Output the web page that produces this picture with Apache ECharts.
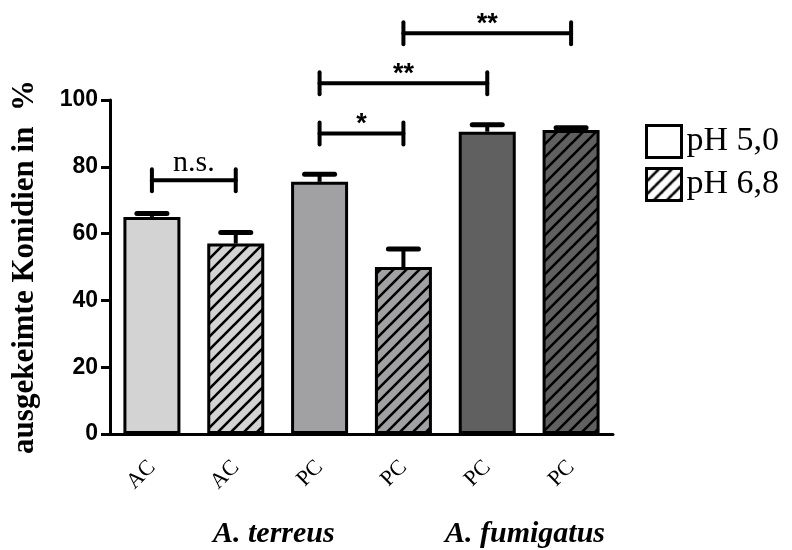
<!DOCTYPE html>
<html>
<head>
<meta charset="utf-8">
<script src="https://cdn.jsdelivr.net/npm/echarts@6/dist/echarts.min.js"></script>
<style>
  html, body { margin: 0; padding: 0; background: #fff; }
  #main { width: 792px; height: 550px; }
</style>
</head>
<body>
<div id="main"></div>
<script>
// germination data
const categories = ['AC', 'AC', 'PC', 'PC', 'PC', 'PC'];
const phGroup = ['pH 5,0', 'pH 6,8', 'pH 5,0', 'pH 6,8', 'pH 5,0', 'pH 6,8'];
const means = [65, 57, 75.5, 50, 90.5, 91];
const sem = [1, 3.3, 2.3, 5.4, 2.1, 0.7];
const yTicks = [0, 20, 40, 60, 80, 100];
// [from index, to index, level in %, label]
const brackets = [
  [0, 1, 76, 'n.s.'],
  [2, 3, 90, '*'],
  [2, 4, 105, '**'],
  [3, 5, 120, '**']
];
const species = ['A. terreus', 'A. fumigatus'];

const shades = ['#d3d3d3', '#d3d3d3', '#a1a1a3', '#a1a1a3', '#606060', '#606060'];

function hatch(base) {
  let s = 13;
  let c = document.createElement('canvas');
  c.width = s;
  c.height = s;
  let ctx = c.getContext('2d');
  ctx.fillStyle = base;
  ctx.fillRect(0, 0, s, s);
  ctx.strokeStyle = '#000';
  ctx.lineWidth = 2.6;
  ctx.beginPath();
  ctx.moveTo(-2, 2); ctx.lineTo(2, -2);
  ctx.moveTo(0, s); ctx.lineTo(s, 0);
  ctx.moveTo(s - 2, s + 2); ctx.lineTo(s + 2, s - 2);
  ctx.stroke();
  return { image: c, repeat: 'repeat' };
}

function barItems(group) {
  return means.map((v, i) => {
    if (phGroup[i] !== group) return '-';
    return {
      value: v,
      itemStyle: { color: group === 'pH 6,8' ? hatch(shades[i]) : shades[i] }
    };
  });
}

const chart = echarts.init(document.getElementById('main'));

const option = {
  animation: false,
  backgroundColor: '#fff',
  grid: { left: 110, right: 179, top: 100, bottom: 116 },
  legend: {
    left: 640,
    top: 119,
    orient: 'vertical',
    itemWidth: 35,
    itemHeight: 32,
    itemGap: 8,
    selectedMode: false,
    textStyle: { fontFamily: 'Liberation Serif', fontSize: 34, color: '#000' },
    data: [
      { name: 'pH 5,0', icon: 'rect', itemStyle: { color: '#fff', borderColor: '#000', borderWidth: 3 } },
      { name: 'pH 6,8', icon: 'rect', itemStyle: { color: hatch('#fff'), borderColor: '#000', borderWidth: 3 } }
    ]
  },
  xAxis: {
    type: 'category',
    data: categories,
    axisLine: { lineStyle: { color: '#000', width: 3 } },
    axisTick: { alignWithLabel: true, length: 11, lineStyle: { color: '#000', width: 3 } },
    axisLabel: {
      rotate: 45,
      margin: 30,
      color: '#000',
      fontFamily: 'Liberation Serif',
      fontSize: 22
    }
  },
  yAxis: {
    type: 'value',
    min: 0,
    max: 100,
    interval: 20,
    name: 'ausgekeimte Konidien in  %',
    nameLocation: 'middle',
    nameGap: 70,
    nameTextStyle: { fontFamily: 'Liberation Serif', fontWeight: 'bold', fontSize: 31, color: '#000' },
    splitLine: { show: false },
    axisLine: { show: true, lineStyle: { color: '#000', width: 3 } },
    axisTick: { show: true, length: 9, lineStyle: { color: '#000', width: 3 } },
    axisLabel: {
      margin: 12,
      color: '#000',
      fontFamily: 'Liberation Sans',
      fontWeight: 'bold',
      fontSize: 23,
      formatter: (v) => yTicks.indexOf(v) >= 0 ? String(v) : ''
    }
  },
  series: [
    {
      name: 'pH 5,0',
      type: 'bar',
      barWidth: 57,
      barGap: '-100%',
      itemStyle: { color: '#fff', borderColor: '#000', borderWidth: 3 },
      data: barItems('pH 5,0')
    },
    {
      name: 'pH 6,8',
      type: 'bar',
      barWidth: 57,
      barGap: '-100%',
      itemStyle: { color: hatch('#fff'), borderColor: '#000', borderWidth: 3 },
      data: barItems('pH 6,8')
    },
    {
      type: 'custom',
      z: 5,
      data: means.map((m, i) => [i, m, sem[i]]),
      renderItem: (params, api) => {
        let x = api.value(0);
        let m = api.value(1);
        let e = api.value(2);
        let base = api.coord([x, m]);
        let top = api.coord([x, m + e]);
        let st = { stroke: '#000', lineWidth: 4 };
        return {
          type: 'group',
          children: [
            { type: 'line', shape: { x1: base[0], y1: base[1], x2: top[0], y2: top[1] }, style: st },
            { type: 'line', shape: { x1: top[0] - 15, y1: top[1], x2: top[0] + 15, y2: top[1] }, style: { stroke: '#000', lineWidth: 5, lineCap: 'round' } }
          ]
        };
      }
    },
    {
      type: 'custom',
      z: 6,
      clip: false,
      data: brackets.map((b) => [b[0], b[1], b[2]]),
      renderItem: (params, api) => {
        let a = api.coord([api.value(0), api.value(2)]);
        let b = api.coord([api.value(1), api.value(2)]);
        let label = brackets[params.dataIndex][3];
        let isNs = label === 'n.s.';
        let st = { stroke: '#000', lineWidth: 4, lineCap: 'round' };
        return {
          type: 'group',
          children: [
            { type: 'line', shape: { x1: a[0], y1: a[1], x2: b[0], y2: b[1] }, style: st },
            { type: 'line', shape: { x1: a[0], y1: a[1] - 11, x2: a[0], y2: a[1] + 11 }, style: st },
            { type: 'line', shape: { x1: b[0], y1: b[1] - 11, x2: b[0], y2: b[1] + 11 }, style: st },
            {
              type: 'text',
              style: {
                text: label,
                x: (a[0] + b[0]) / 2,
                y: isNs ? a[1] - 2 : a[1] + 5,
                align: 'center',
                verticalAlign: 'bottom',
                fill: '#000',
                font: isNs ? '30px "Liberation Serif"' : 'bold 27px "Liberation Sans"'
              }
            }
          ]
        };
      }
    }
  ],
  graphic: [
    {
      type: 'text',
      left: 213,
      top: 519,
      style: { text: species[0], fill: '#000', font: 'italic bold 30px "Liberation Serif"' }
    },
    {
      type: 'text',
      left: 445,
      top: 519,
      style: { text: species[1], fill: '#000', font: 'italic bold 30px "Liberation Serif"' }
    }
  ]
};

chart.setOption(option);
</script>
</body>
</html>
